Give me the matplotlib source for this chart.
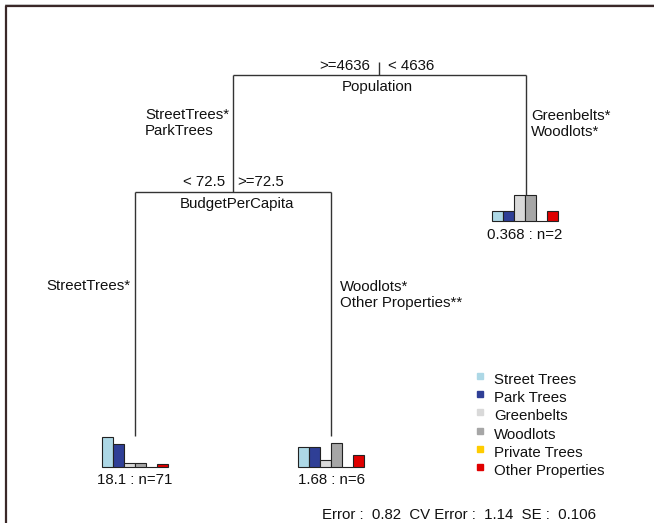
import matplotlib
matplotlib.use("Agg")
import matplotlib.pyplot as plt

plt.rcParams["font.family"] = ["Liberation Sans", "DejaVu Sans"]

# Response classes and their colours
classes = ["Street Trees", "Park Trees", "Greenbelts", "Woodlots",
           "Private Trees", "Other Properties"]
class_colors = ["#add8e6", "#2f3f96", "#d9d9d9", "#a6a6a6", "#ffcc00", "#e00000"]

# Split variables and thresholds
root_split = "Population"
root_labels = [">=4636", "< 4636"]
inner_split = "BudgetPerCapita"
inner_labels = ["< 72.5", ">=72.5"]

# Indicator species labels on the branches
branch_root_left = "StreetTrees*\nParkTrees"
branch_root_right = "Greenbelts*\nWoodlots*"
branch_inner_left = "StreetTrees*"
branch_inner_right = "Woodlots*\nOther Properties**"

# Leaf summaries: relative class means, deviance and size
leaf_means = {
    "left":  [1.00, 0.74, 0.13, 0.13, 0.00, 0.09],
    "mid":   [0.64, 0.64, 0.22, 0.78, 0.00, 0.40],
    "right": [0.34, 0.34, 0.87, 0.87, 0.00, 0.34],
}
leaf_dev = {"left": "18.1", "mid": "1.68", "right": "0.368"}
leaf_n = {"left": 71, "mid": 6, "right": 2}

error, cv_error, se = 0.82, 1.14, 0.106

W, H = 654, 523
fig = plt.figure(figsize=(W / 100, H / 100), dpi=100)
ax = fig.add_axes([0, 0, 1, 1])
ax.set_xlim(0, W)
ax.set_ylim(H, 0)
ax.axis("off")

line_kw = dict(color="#333333", lw=1.0, solid_capstyle="butt")
txt_kw = dict(fontsize=10.8, color="#111111")

# Frame
ax.plot([5.5, 5.5, W], [H, 5.5, 5.5], color="#3a2828", lw=1.6)
ax.plot([4.5, W], [3.8, 3.8], color="#bbbbbb", lw=0.6)

# Node layout (pixel coordinates)
root_x, root_y = 379, 75
lx, rx = 233, 526
inner_y = 191.5
ilx, irx = 135, 331
leaf_top_low = 436
leaf_top_right = 195

# Root split
ax.plot([lx, rx], [root_y, root_y], **line_kw)
ax.plot([root_x, root_x], [root_y, 62], **line_kw)
ax.text(370, 70, root_labels[0], ha="right", va="baseline", **txt_kw)
ax.text(388, 70, root_labels[1], ha="left", va="baseline", **txt_kw)
ax.text(377, 91, root_split, ha="center", va="baseline", **txt_kw)
ax.plot([lx, lx], [root_y, inner_y], **line_kw)
ax.plot([rx, rx], [root_y, leaf_top_right], **line_kw)

# Inner split
ax.plot([ilx, irx], [inner_y, inner_y], **line_kw)
ax.text(225, 186, inner_labels[0], ha="right", va="baseline", **txt_kw)
ax.text(237, 186, inner_labels[1], ha="left", va="baseline", **txt_kw)
ax.text(237, 208, inner_split, ha="center", va="baseline", **txt_kw)
ax.plot([ilx, ilx], [inner_y, leaf_top_low], **line_kw)
ax.plot([irx, irx], [inner_y, leaf_top_low], **line_kw)

# Branch labels (baseline refers to the last line)
ax.text(145, 135, branch_root_left, ha="left", va="baseline", linespacing=1.2, **txt_kw)
ax.text(531, 136, branch_root_right, ha="left", va="baseline", linespacing=1.2, **txt_kw)
ax.text(46, 290, branch_inner_left, ha="left", va="baseline", **txt_kw)
ax.text(340, 307, branch_inner_right, ha="left", va="baseline", linespacing=1.2, **txt_kw)

# Leaf bar plots
leaf_pos = {"left": (ilx, 466.5), "mid": (irx, 466.5), "right": (rx - 1, 221)}
bar_w_px, bar_h_px = 11, 30
for key, (cx, base) in leaf_pos.items():
    vals = leaf_means[key]
    nb = len(vals)
    left = cx - nb * bar_w_px / 2
    lax = fig.add_axes([left / W, 1 - base / H, nb * bar_w_px / W, bar_h_px / H])
    lax.set_xlim(0, nb)
    lax.set_ylim(0, 1)
    lax.axis("off")
    lax.bar(range(nb), vals, width=1, align="edge", color=class_colors,
            edgecolor="#222222", linewidth=0.8, clip_on=False)
    ax.text(cx, base + 18, f"{leaf_dev[key]} : n={leaf_n[key]}",
            ha="center", va="baseline", **txt_kw)

# Legend
for i, (name, col) in enumerate(zip(classes, class_colors)):
    y = 379 + 18.2 * i
    ax.plot(480, y - 3, marker="s", ms=4.5, color=col, mec=col)
    ax.text(494, y + 5, name, ha="left", va="baseline", **txt_kw)

# Error summary
ax.text(322, 519, f"Error :  {error}  CV Error :  {cv_error}  SE :  {se}",
        ha="left", va="baseline", **txt_kw)

fig.savefig("out.png", dpi=100)
